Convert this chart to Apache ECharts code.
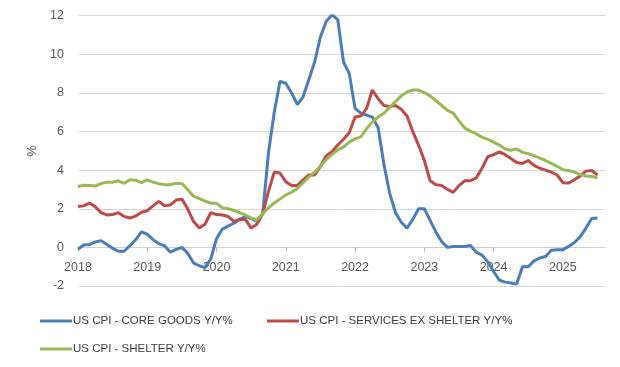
<!DOCTYPE html>
<html>
<head>
<meta charset="utf-8">
<script src="https://cdn.jsdelivr.net/npm/echarts@6/dist/echarts.min.js"></script>
<style>
html,body{margin:0;padding:0;background:#fff;}
#chart{width:620px;height:367px;}
</style>
</head>
<body>
<div id="chart"></div>
<script>
// Monthly data, Jan 2018 .. Jul 2025
var yearLabels = ['2018','2019','2020','2021','2022','2023','2024','2025'];
var yTicks = [-2, 0, 2, 4, 6, 8, 10, 12];

var coreGoods = [
  -0.1, 0.12, 0.15, 0.28, 0.35, 0.15, -0.05, -0.2, -0.2, 0.1, 0.4, 0.8,
  0.68, 0.4, 0.2, 0.08, -0.25, -0.1, 0.0, -0.3, -0.8, -0.95, -1.05, -0.6,
  0.45, 0.95, 1.1, 1.25, 1.45, 1.6, 1.5, 1.35, 1.75, 4.9, 7.0, 8.6,
  8.5, 8.0, 7.4, 7.8, 8.7, 9.6, 10.9, 11.7, 12.05, 11.8, 9.6, 9.0,
  7.2, 6.95, 6.85, 6.75, 6.2, 4.3, 2.8, 1.8, 1.3, 1.0, 1.45, 2.0,
  2.0, 1.4, 0.8, 0.3, 0.0, 0.05, 0.05, 0.05, 0.1, -0.25, -0.4, -0.75,
  -1.25, -1.7, -1.8, -1.85, -1.9, -1.0, -1.0, -0.7, -0.55, -0.47, -0.15, -0.12,
  -0.12, 0.05, 0.25, 0.55, 1.0, 1.5, 1.52
];
var servicesExShelter = [
  2.12, 2.15, 2.3, 2.1, 1.8, 1.68, 1.7, 1.8, 1.6, 1.52, 1.62, 1.82,
  1.9, 2.15, 2.38, 2.15, 2.2, 2.45, 2.5, 2.0, 1.35, 1.0, 1.2, 1.8,
  1.7, 1.68, 1.6, 1.35, 1.45, 1.45, 1.0, 1.2, 1.75, 2.9, 3.9, 3.85,
  3.4, 3.2, 3.2, 3.5, 3.75, 3.75, 4.2, 4.75, 4.95, 5.3, 5.6, 5.95,
  6.75, 6.8, 7.2, 8.15, 7.7, 7.35, 7.3, 7.35, 7.15, 6.8, 6.0, 5.3,
  4.5, 3.45, 3.25, 3.2, 3.0, 2.85, 3.2, 3.45, 3.45, 3.6, 4.1, 4.7,
  4.8, 4.95, 4.8, 4.6, 4.4, 4.35, 4.5, 4.25, 4.1, 4.0, 3.9, 3.75,
  3.35, 3.33, 3.5, 3.7, 3.95, 3.98, 3.75
];
var shelter = [
  3.15, 3.22, 3.2, 3.18, 3.3, 3.38, 3.38, 3.45, 3.32, 3.5, 3.48, 3.35,
  3.5, 3.38, 3.3, 3.25, 3.25, 3.32, 3.3, 3.0, 2.65, 2.52, 2.4, 2.3,
  2.28, 2.05, 2.0, 1.92, 1.8, 1.68, 1.52, 1.42, 1.75, 2.05, 2.3, 2.5,
  2.72, 2.85, 3.05, 3.35, 3.65, 3.9, 4.2, 4.55, 4.8, 5.05, 5.2, 5.45,
  5.62, 5.72, 6.15, 6.5, 6.75, 6.95, 7.25, 7.55, 7.85, 8.05, 8.15, 8.15,
  8.02, 7.85, 7.6, 7.35, 7.1, 6.95, 6.55, 6.18, 6.02, 5.88, 5.7, 5.6,
  5.45, 5.3, 5.1, 5.03, 5.1, 4.92, 4.85, 4.75, 4.62, 4.5, 4.35, 4.2,
  4.02, 3.98, 3.9, 3.78, 3.7, 3.67, 3.6
];

var seriesNames = ['US CPI - CORE GOODS Y/Y%', 'US CPI - SERVICES EX SHELTER Y/Y%', 'US CPI - SHELTER Y/Y%'];
var colors = ['#4A7EBB', '#BE4B48', '#98B954'];

function pairs(arr){ return arr.map(function(v,i){ return [i, v]; }); }
var yearPositions = yearLabels.map(function(_, k){ return k*12; });

var H = 367, GRID_TOP = 15.7, GRID_BOTTOM = 81;
var yMin = yTicks[0], yMax = yTicks[yTicks.length-1];
// place the category axis where y = 0 (the axis crosses at zero)
var zeroOffset = -((0 - yMin) / (yMax - yMin)) * (H - GRID_TOP - GRID_BOTTOM);

var FONT = "'Liberation Sans', Arial, sans-serif";
var chart = echarts.init(document.getElementById('chart'), null, {renderer:'canvas'});
var legendBase = {
  icon: 'rect', itemWidth: 32, itemHeight: 3, orient: 'horizontal', padding: 0,
  textStyle: {fontFamily: FONT, fontSize: 11.5, color: '#404040', lineHeight: 16, padding:[0,0,0,-4]}
};
chart.setOption({
  animation: false,
  backgroundColor: '#ffffff',
  grid: {left: 78, right: 15, top: GRID_TOP, bottom: GRID_BOTTOM, containLabel: false},
  xAxis: {
    type: 'value', min: 0, max: 91.3, position: 'bottom', offset: zeroOffset,
    axisLine: {show: true, onZero: false, lineStyle: {color: '#d0d0d0', width: 1}},
    axisTick: {show: true, customValues: yearPositions, length: 5, lineStyle: {color: '#bfbfbf'}},
    axisLabel: {customValues: yearPositions, margin: 14, fontFamily: FONT, fontSize: 12.5, color: '#595959',
      formatter: function(v){ return yearLabels[Math.round(v/12)] || ''; }},
    splitLine: {show: false}
  },
  yAxis: {
    type: 'value', min: yMin, max: yMax, interval: 2,
    name: '%', nameLocation: 'middle', nameGap: 38, nameRotate: 90,
    nameTextStyle: {fontFamily: FONT, fontSize: 13, color: '#595959'},
    axisLine: {show: false, onZero: false}, axisTick: {show: false},
    axisLabel: {margin: 14, fontFamily: FONT, fontSize: 12.5, color: '#595959'},
    splitLine: {lineStyle: {color: '#d9d9d9', width: 1}}
  },
  legend: [
    Object.assign({left: 40, top: 313, data: [seriesNames[0]]}, legendBase),
    Object.assign({left: 267, top: 313, data: [seriesNames[1]]}, legendBase),
    Object.assign({left: 40, top: 341, data: [seriesNames[2]]}, legendBase)
  ],
  series: [
    {name: seriesNames[0], type: 'line', data: pairs(coreGoods), showSymbol: false, symbol: 'none', lineStyle: {width: 3, color: colors[0]}, itemStyle:{color: colors[0]}, z: 3},
    {name: seriesNames[1], type: 'line', data: pairs(servicesExShelter), showSymbol: false, symbol: 'none', lineStyle: {width: 3, color: colors[1]}, itemStyle:{color: colors[1]}, z: 4},
    {name: seriesNames[2], type: 'line', data: pairs(shelter), showSymbol: false, symbol: 'none', lineStyle: {width: 3, color: colors[2]}, itemStyle:{color: colors[2]}, z: 5}
  ]
});
</script>
</body>
</html>
